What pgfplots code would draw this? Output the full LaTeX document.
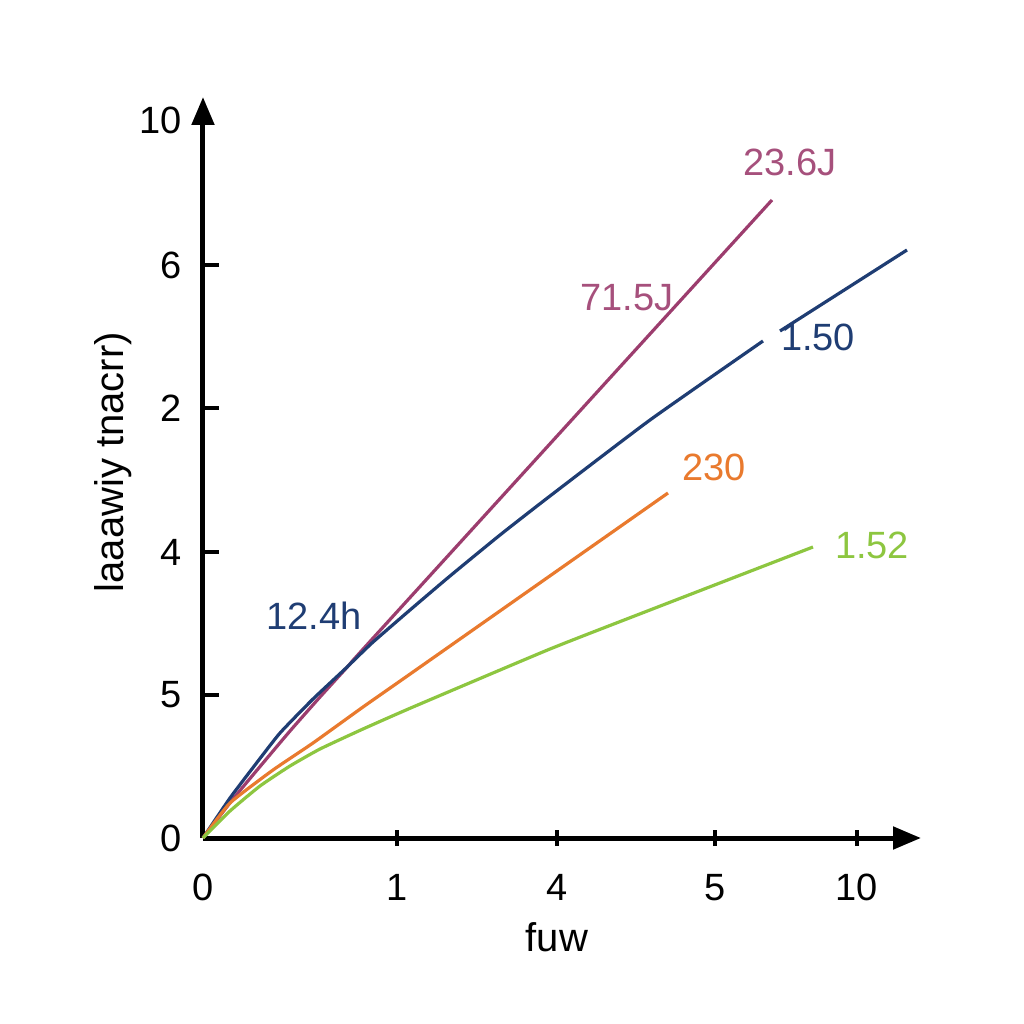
\documentclass[border=0pt]{standalone}
\usepackage{pgfplots}
\pgfplotsset{compat=1.18}
\usepackage{fontspec}
\setmainfont{Liberation Sans}
\usetikzlibrary{arrows.meta}

\definecolor{cPurple}{HTML}{9C3D6E}
\definecolor{cBlue}{HTML}{1F3D73}
\definecolor{cOrange}{HTML}{E97A2E}
\definecolor{cGreen}{HTML}{8DC640}

\begin{document}
\begin{tikzpicture}
  \begin{axis}[
    scale only axis,
    x=0.5pt, y=0.5pt,
    xmin=203, xmax=921, ymin=186, ymax=927,
    axis lines=left,
    axis line style={line width=2.5pt, -{Triangle[width=11pt,length=14pt]}},
    clip=false,
    xtick={397,557,715,857}, xticklabels={1,4,5,10},
    extra x ticks={203}, extra x tick labels={0},
    extra x tick style={tick style={draw=none}},
    ytick={329,472,616,759}, yticklabels={5,4,2,6},
    extra y ticks={186,904}, extra y tick labels={0,10},
    extra y tick style={tick style={draw=none}},
    xtick align=center, ytick align=inside,
    major tick length=8pt,
    tick style={line width=2pt, black},
    ticklabel style={font=\fontsize{19}{22}\selectfont},
    xticklabel style={yshift=-10.5pt},
    yticklabel style={xshift=-7pt},
    xlabel={fuw}, ylabel={laaawiy tnacrr)},
    label style={font=\fontsize{20}{24}\selectfont},
    xlabel style={at={(axis description cs:0.493,-0.134)}, anchor=center},
    ylabel style={at={(axis description cs:-0.125,0.507)}, anchor=center},
  ]
  % purple
  \addplot[cPurple, line width=1.6pt, smooth, tension=0.3] coordinates {
    (203,186) (233,225) (263,261) (290,293) (320,327) (350,360) (375,388) (772,824)};
  % blue, with a gap at its label
  \addplot[cBlue, line width=1.6pt, smooth, tension=0.3] coordinates {
    (203,186) (230,226) (255,259) (280,291) (313,325) (345,355) (372,381)
    (410,414) (450,448) (500,489) (550,528) (650,604) (763,683)};
  \addplot[cBlue, line width=1.6pt] coordinates {(780,693) (907,774)};
  % orange
  \addplot[cOrange, line width=1.6pt, smooth, tension=0.3] coordinates {
    (203,186) (230,221) (273,254) (313,281) (363,317) (413,352) (668,531)};
  % green
  \addplot[cGreen, line width=1.6pt, smooth, tension=0.3] coordinates {
    (203,186) (230,213) (260,238) (290,258) (320,275) (363,295) (413,317)
    (550,375) (650,414) (813,477)};

  \begin{scope}[every node/.style={font=\fontsize{19}{22}\selectfont, inner sep=0pt}]
    \node[text=cPurple!90!white] at (axis cs:790,862) {23.6J};
    \node[text=cPurple!90!white] at (axis cs:627,726) {71.5J};
    \node[text=cBlue] at (axis cs:818,687) {1.50};
    \node[text=cOrange] at (axis cs:714,557) {230};
    \node[text=cGreen] at (axis cs:872,479) {1.52};
    \node[text=cBlue] at (axis cs:314,408) {12.4h};
  \end{scope}

  \path (axis cs:0,0) rectangle (axis cs:1024,1024);
  \end{axis}
\end{tikzpicture}
\end{document}
